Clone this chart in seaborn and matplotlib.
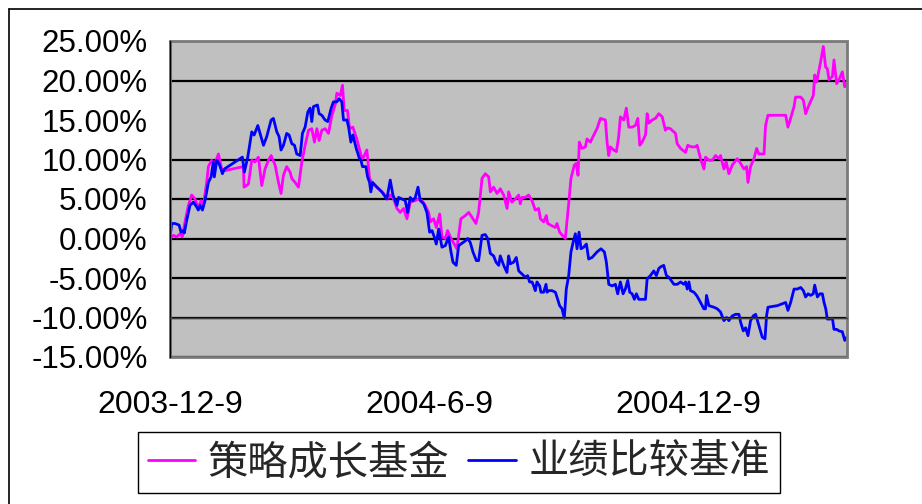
import pandas as pd
import matplotlib
matplotlib.use("Agg")
import matplotlib.pyplot as plt
import seaborn as sns
from matplotlib.ticker import PercentFormatter
from matplotlib.lines import Line2D
from matplotlib.patches import Rectangle
from matplotlib.font_manager import FontProperties

# ---- data ----
start_date = "2003-12-09"
end_date = "2005-03-31"
tick_dates = ["2003-12-09", "2004-06-09", "2004-12-09"]
tick_labels = ["2003-12-9", "2004-6-9", "2004-12-9"]
y_ticks = [-15, -10, -5, 0, 5, 10, 15, 20, 25]
series_names = ["策略成长基金", "业绩比较基准"]
series_colors = ["#FF00FF", "#0000FF"]

# days since start date / cumulative return in %
fund_day = [0, 2.4, 4.7, 7.1, 8.7, 10.6, 13.0, 15.3, 17.7, 20.0, 21.9, 23.6, 25.9, 27.1, 29.4, 31.3,
            34.2, 36.5, 38.9, 51.8, 52.3, 55.4, 57.7, 60.1, 62.4, 64.8, 67.1, 69.5, 71.4, 74.2, 76.6,
            78.4, 80.1, 82.4, 84.8, 86.0, 88.3, 90.7, 93.1, 95.4, 97.8, 100.1, 102.0, 103.7, 105.3,
            107.2, 109.5, 111.9, 114.3, 116.6, 117.8, 120.2, 121.8, 123.0, 125.3, 126.8, 129.1, 131.9,
            135.5, 136.7, 139.0, 140.9, 142.5, 146.1, 150.8, 153.1, 155.5, 157.9, 160.2, 162.6, 164.9,
            167.3, 169.6, 173.2, 175.5, 177.9, 180.2, 182.6, 183.8, 186.1, 188.0, 190.4, 192.0, 194.4,
            196.0, 198.4, 200.7, 202.6, 203.8, 205.4, 208.5, 210.9, 213.2, 216.0, 217.9, 220.3, 222.6,
            225.0, 226.2, 228.5, 230.9, 233.2, 235.6, 238.0, 239.1, 241.4, 243.8, 246.2, 247.3, 248.5,
            250.9, 253.2, 255.6, 257.9, 260.3, 261.5, 263.8, 265.7, 266.7, 269.7, 272.1, 273.2, 275.1,
            278.0, 279.1, 281.5, 283.1, 285.5, 286.9, 288.1, 289.0, 290.9, 293.3, 294.4, 296.8, 299.2,
            301.5, 303.9, 307.4, 308.6, 309.8, 310.9, 313.3, 315.2, 316.8, 318.0, 320.4, 322.2, 323.9,
            326.3, 328.6, 330.3, 331.7, 333.3, 335.7, 336.9, 338.0, 340.4, 342.7, 345.1, 347.5, 349.8,
            351.0, 353.3, 356.9, 358.1, 360.5, 364.0, 365.6, 368.0, 371.1, 372.2, 374.6, 377.0, 378.1,
            380.5, 382.9, 385.2, 387.6, 388.7, 391.1, 392.7, 394.6, 397.0, 400.5, 402.9, 405.2, 407.1,
            408.1, 409.9, 412.3, 414.2, 415.8, 419.4, 420.5, 422.2, 425.2, 428.8, 434.7, 436.3, 438.2,
            440.6, 441.7, 445.3, 447.2, 448.8, 451.2, 454.2, 455.2, 456.6, 457.8, 459.4, 461.3, 462.9,
            464.1, 465.3, 467.7, 468.8, 470.7, 472.4, 474.7, 476.4, 477.8]
fund_ret = [0.0, 0.4, 0.2, 0.6, 0.2, 2.1, 4.2, 5.5, 5.0, 3.8, 4.8, 4.2, 7.1, 9.1, 9.9, 9.3,
            10.7, 8.8, 8.6, 9.1, 6.5, 6.9, 9.9, 9.7, 10.3, 6.7, 8.8, 9.9, 10.5, 9.3, 7.1,
            5.7, 8.0, 9.1, 8.4, 7.6, 7.1, 6.5, 9.7, 11.8, 13.7, 13.9, 12.2, 13.9, 12.4,
            13.7, 13.9, 13.3, 15.6, 16.9, 18.4, 18.1, 19.4, 16.2, 16.2, 13.9, 14.1, 12.6,
            10.1, 10.3, 11.2, 7.6, 7.1, 6.5, 5.7, 5.0, 5.5, 5.0, 3.8, 3.3, 3.8,
            2.5, 4.6, 4.8, 5.0, 4.8, 4.2, 3.3, 2.1, 2.5, 1.4, 3.1, 0.2, 0.0,
            1.0, 0.0, -0.7, -1.3, 0.4, 2.5, 2.9, 3.3, 2.7, 1.9, 3.3, 7.6, 8.2,
            7.8, 5.9, 6.5, 5.7, 6.3, 5.5, 3.8, 5.9, 4.6, 5.0, 5.5, 4.4, 5.2,
            5.2, 5.5, 4.8, 3.6, 3.8, 2.5, 2.1, 2.9, 1.9, 1.6, 1.4, 1.9, 0.8,
            0.2, 0.0, 4.4, 7.6, 9.3, 9.5, 8.0, 12.2, 11.4, 11.6, 12.6, 12.2, 13.1,
            13.9, 15.2, 15.0, 12.2, 10.5, 11.6, 11.2, 11.0, 12.9, 15.4, 15.0, 16.5, 14.1,
            14.1, 14.3, 15.2, 11.8, 12.2, 13.1, 15.8, 14.6, 15.0, 15.2, 15.8, 15.4, 13.7,
            14.0, 13.9, 13.3, 12.0, 11.4, 10.9, 11.8, 11.6, 11.6, 11.8, 10.1, 8.8, 10.3,
            9.9, 9.9, 10.5, 10.1, 10.5, 8.8, 9.7, 8.2, 9.3, 10.1, 9.5, 8.8, 9.1,
            7.1, 9.1, 10.1, 11.4, 10.7, 10.7, 14.3, 15.6, 15.6, 15.6, 15.6, 14.1, 15.2,
            16.7, 17.9, 17.9, 17.5, 15.8, 16.9, 18.1, 20.7, 19.8, 20.9, 22.4, 24.3, 21.7,
            21.5, 20.1, 20.5, 22.6, 19.6, 20.1, 21.1, 19.2, 19.6]

bench_day = [0, 1.2, 3.5, 6.4, 7.8, 9.4, 10.1, 11.8, 14.1, 16.5, 18.8, 20.0, 21.2, 22.9, 24.7,
             27.1, 29.0, 30.6, 31.3, 33.0, 34.6, 36.0, 37.0, 38.4, 51.1, 52.5, 54.9, 57.7, 59.4,
             62.0, 63.6, 66.0, 68.3, 71.4, 73.0, 75.4, 77.0, 78.4, 80.1, 82.4, 84.1, 86.0, 87.9,
             89.5, 91.9, 93.5, 95.4, 97.3, 98.9, 100.1, 101.3, 104.1, 105.3, 107.2, 109.5, 111.4,
             113.8, 115.4, 117.8, 119.4, 121.3, 122.5, 124.9, 126.1, 127.7, 129.1, 131.5, 133.8,
             134.8, 135.9, 138.3, 139.5, 140.9, 141.8, 143.0, 146.1, 149.6, 153.1, 155.5, 157.4,
             159.0, 160.2, 161.4, 163.7, 166.1, 167.8, 169.6, 171.5, 173.2, 175.1, 176.7, 179.1,
             181.4, 183.3, 185.0, 186.6, 188.0, 189.7, 192.0, 194.4, 196.7, 198.4, 199.8, 202.1,
             203.8, 205.4, 208.5, 210.2, 212.0, 213.9, 216.3, 217.9, 220.3, 222.6, 224.3, 226.2,
             228.5, 230.2, 232.1, 233.2, 235.6, 237.9, 239.1, 240.3, 242.6, 244.5, 246.2, 248.5,
             250.9, 252.5, 253.9, 255.6, 256.8, 257.9, 259.1, 261.0, 261.9, 263.8, 265.5, 266.2,
             267.4, 269.7, 272.1, 273.2, 275.1, 276.8, 278.4, 279.8, 281.5, 283.1, 284.6, 286.2,
             287.4, 288.8, 290.2, 292.1, 294.0, 295.6, 298.0, 301.5, 304.3, 306.7, 308.1, 309.8,
             312.1, 314.5, 316.1, 318.0, 319.9, 321.5, 323.2, 324.6, 326.3, 327.9, 329.3, 331.0,
             333.3, 335.7, 336.9, 339.2, 341.6, 343.4, 345.1, 346.3, 348.6, 350.5, 352.2, 355.8,
             358.1, 360.5, 362.8, 364.0, 365.2, 366.4, 367.5, 369.9, 371.8, 373.4, 375.8, 376.9,
             378.1, 378.8, 380.5, 384.0, 386.4, 388.7, 391.1, 393.0, 394.6, 397.0, 399.3, 401.7,
             402.9, 404.8, 406.4, 408.1, 409.9, 411.8, 413.5, 415.8, 418.2, 420.1, 421.2, 422.2,
             428.8, 434.7, 436.3, 438.2, 440.6, 442.9, 445.3, 447.2, 448.8, 450.5, 452.3, 454.2,
             455.2, 457.1, 458.9, 460.6, 461.8, 463.0, 464.1, 466.0, 467.7, 468.8, 470.7, 472.4,
             474.7, 476.4, 477.8]
bench_ret = [0.0, 1.9, 1.9, 1.7, 0.8, 1.0, 0.7, 2.3, 4.2, 4.6, 4.0, 3.6, 4.2, 3.6, 4.8,
             7.1, 7.8, 9.7, 7.8, 9.9, 9.5, 8.8, 8.2, 8.8, 10.3, 8.4, 10.3, 13.5, 13.1,
             14.3, 13.3, 11.8, 12.9, 15.0, 15.2, 13.5, 12.9, 11.2, 11.8, 13.3, 13.1, 12.0, 11.8,
             10.7, 10.5, 13.3, 14.1, 16.0, 16.5, 14.8, 16.7, 16.9, 15.8, 15.6, 15.0, 14.8,
             16.5, 17.3, 17.3, 17.7, 17.3, 15.0, 15.0, 14.1, 12.2, 13.1, 11.4, 10.1,
             9.9, 9.1, 9.1, 7.8, 7.1, 5.9, 7.1, 6.5, 5.9, 5.0, 7.4, 5.5,
             4.8, 4.2, 5.2, 5.0, 4.8, 3.3, 5.2, 4.8, 5.2, 6.5, 4.8, 4.4,
             3.3, 0.8, 1.0, 0.2, -0.7, 1.2, -1.1, -0.9, 0.2, -1.7, -3.0, -3.4,
             -0.9, -0.7, -0.3, 0.0, -0.5, -1.7, -2.8, -2.8, 0.4, 0.5, 0.0, -1.9,
             -2.2, -3.0, -3.4, -2.2, -3.4, -4.3, -2.2, -3.2, -3.0, -2.4, -4.1, -4.5,
             -4.9, -4.7, -5.5, -5.5, -6.0, -6.6, -5.5, -6.0, -6.8, -6.8, -5.8, -6.8,
             -6.6, -6.6, -6.8, -7.4, -8.5, -8.9, -10.1, -6.4, -4.7, -1.7, -0.5, 0.6,
             -1.3, 0.8, -1.3, -1.1, -0.7, -2.6, -2.4, -1.7, -1.3, -1.7, -3.0, -5.8,
             -6.0, -5.8, -7.0, -5.5, -7.0, -6.4, -5.3, -6.8, -7.0, -7.7, -7.0, -7.7,
             -7.7, -7.7, -5.1, -4.7, -4.1, -4.7, -3.8, -3.6, -3.4, -4.7, -4.9, -5.8,
             -5.8, -5.5, -5.8, -5.5, -6.4, -5.5, -6.6, -6.8, -7.2, -7.7, -8.5, -8.9,
             -8.9, -7.2, -8.5, -8.7, -8.9, -9.3, -10.4, -10.0, -10.4, -9.8, -9.6, -9.6,
             -10.6, -11.7, -11.3, -12.3, -10.4, -9.8, -9.6, -11.0, -12.5, -12.7, -9.8, -8.7,
             -8.5, -8.1, -9.1, -8.1, -6.4, -6.4, -6.2, -6.6, -7.4, -7.0, -7.2, -7.0,
             -5.9, -7.4, -7.0, -7.0, -8.1, -8.9, -10.2, -10.2, -10.1, -11.5, -11.5, -11.7,
             -11.8, -12.9, -12.5]

# ---- style ----
sns.set_style("white")
plt.rcParams['font.family'] = ['Liberation Sans', 'DejaVu Sans']
plt.rcParams['axes.unicode_minus'] = False

t0 = pd.Timestamp(start_date)
fund = pd.DataFrame({'date': t0 + pd.to_timedelta(fund_day, unit='D'), 'ret': fund_ret})
bench = pd.DataFrame({'date': t0 + pd.to_timedelta(bench_day, unit='D'), 'ret': bench_ret})

W, H = 922, 504
fig = plt.figure(figsize=(W / 100, H / 100), dpi=100)
ax = fig.add_axes([170 / W, 1 - 357 / H, (847 - 170) / W, (357 - 41) / H])
ax.set_facecolor('#C0C0C0')

sns.lineplot(data=fund, x='date', y='ret', ax=ax, color=series_colors[0], lw=2.0,
             estimator=None, label=series_names[0])
sns.lineplot(data=bench, x='date', y='ret', ax=ax, color=series_colors[1], lw=2.0,
             estimator=None, label=series_names[1])

ax.set_xlim(pd.Timestamp(start_date), pd.Timestamp(end_date))
ax.set_ylim(y_ticks[0], y_ticks[-1])
ax.set_yticks(y_ticks)
ax.yaxis.set_major_formatter(PercentFormatter(xmax=100, decimals=2))
ax.set_xticks(pd.to_datetime(tick_dates))
ax.set_xticklabels(tick_labels)
ax.set_xlabel('')
ax.set_ylabel('')

# black horizontal gridlines, skip the ones on the axis / border
ax.yaxis.grid(True, color='black', lw=1.6)
ax.xaxis.grid(False)
for tk in ax.yaxis.get_major_ticks():
    if tk.get_loc() in (y_ticks[0], y_ticks[1], y_ticks[-1]):
        tk.gridline.set_visible(False)

# category axis crosses at -10%
ax.spines['bottom'].set_position(('data', y_ticks[1]))
ax.spines['bottom'].set_color('#404040')
ax.spines['bottom'].set_linewidth(1)
ax.spines['left'].set_color('black')
ax.spines['left'].set_linewidth(1)
for s in ('top', 'right'):
    ax.spines[s].set_visible(False)
ax.add_patch(Rectangle((0, 0), 1, 1, transform=ax.transAxes, fill=False,
                       ec='#7a7a7a', lw=2, zorder=2.4, clip_on=False))

ax.tick_params(axis='x', direction='in', length=7, width=1, color='#404040',
               pad=52, labelsize=23, labelcolor='black')
ax.tick_params(axis='y', direction='in', length=6, width=1, color='black',
               pad=16, labelsize=22.5, labelcolor='black')

# legend below the plot
handles, labels = ax.get_legend_handles_labels()
ax.get_legend().remove()
leg = fig.legend(handles, labels, loc='center', bbox_to_anchor=(459 / W, 1 - 462.5 / H),
                 ncol=2, frameon=True, fancybox=False, edgecolor='black', framealpha=1,
                 prop=FontProperties(family=['Noto Sans CJK SC'], size=29),
                 handlelength=1.17, handletextpad=0.32, columnspacing=0.47,
                 borderpad=0.25, borderaxespad=0)
leg.get_frame().set_linewidth(1)
for ln in leg.get_lines():
    ln.set_linewidth(2)

# outer chart frame (cut off at right and bottom in the reference)
fig.add_artist(Line2D([9 / W, 1], [1 - 9 / H, 1 - 9 / H], transform=fig.transFigure,
                      color='black', lw=1.2))
fig.add_artist(Line2D([9 / W, 9 / W], [0, 1 - 9 / H], transform=fig.transFigure,
                      color='black', lw=1.2))

fig.savefig('out.png', dpi=100)
